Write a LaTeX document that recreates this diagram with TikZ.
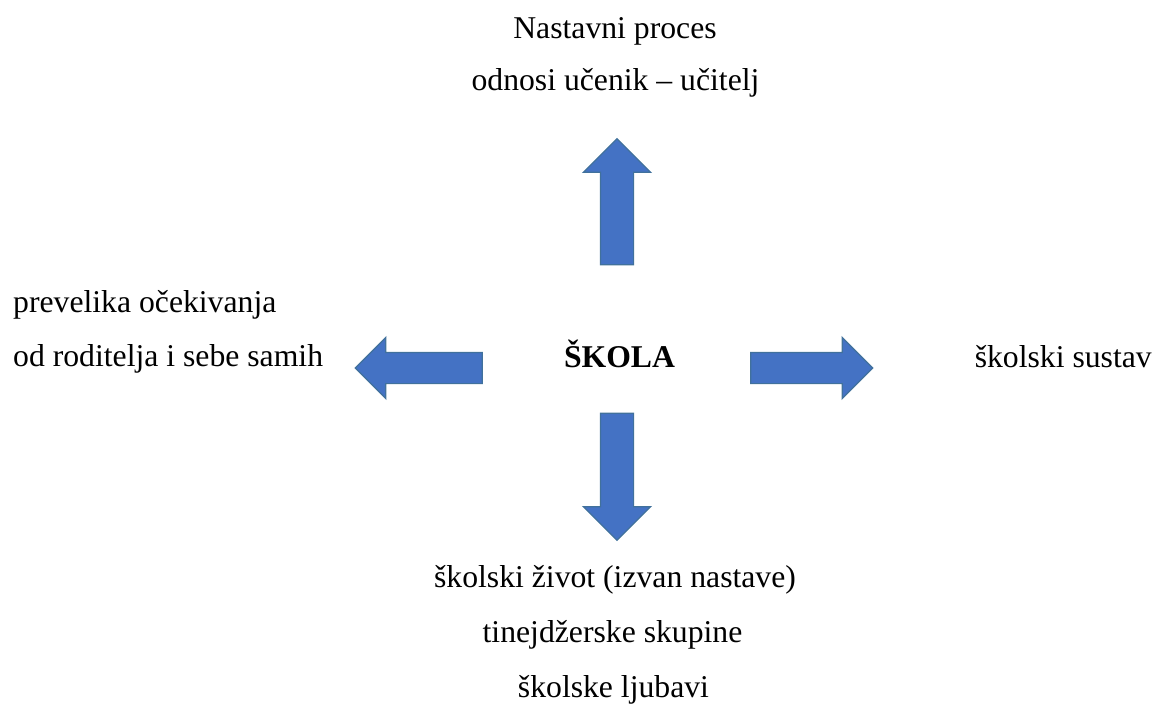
\documentclass[tikz,border=0pt]{standalone}
\usepackage{fontspec}
\setmainfont{Liberation Serif}
\usepackage{tikz}
\usetikzlibrary{shapes, arrows, positioning, calc}

\definecolor{arrowfill}{HTML}{4472C4}
\definecolor{arrowline}{HTML}{41719C}

\tikzset{
	blockarrow/.style = {single arrow, fill = arrowfill, draw = arrowline, line width = 1.2pt,
		inner sep = 0pt, single arrow head extend = #1, single arrow tip angle = 90},
	txt/.style = {font = \fontsize{31.7pt}{38pt}\selectfont, inner sep = 0pt, anchor = base}
}

\begin{document}
\begin{tikzpicture}[x = 1pt, y = -1pt]
						\useasboundingbox (0,0) rectangle (1153,704);
						% arrows
						\node[blockarrow = 17pt, text height = 16pt, text depth = 16pt, minimum height = 126pt, rotate = 90] (up) at (617,210) {};
						\node[blockarrow = 17pt, text height = 16pt, text depth = 16pt, minimum height = 127pt, rotate = -90] (down) at (617,468.5) {};
						\node[blockarrow = 15pt, text height = 15pt, text depth = 15pt, minimum height = 127pt, rotate = 180] (left) at (426.5,368) {};
						\node[blockarrow = 15pt, text height = 15pt, text depth = 15pt, minimum height = 122pt] (right) at (804,368) {};
						% texts
						\node[txt] (skola) at (619.5,367) {\textbf{ŠKOLA}};
						\node[txt] (nastava) at (615,38) {Nastavni proces};
						\node[txt] (odnosi) at (615.5,90) {odnosi učenik – učitelj};
						\node[txt, anchor = base west] (ocekivanja) at (13,312) {prevelika očekivanja};
						\node[txt, anchor = base west] (roditelji) at (13,366) {od roditelja i sebe samih};
						\node[txt, anchor = base east] (sustav) at (1152,367) {školski sustav};
						\node[txt] (zivot) at (615,587) {školski život (izvan nastave)};
						\node[txt] (skupine) at (612.5,642) {tinejdžerske skupine};
						\node[txt] (ljubavi) at (613.5,697) {školske ljubavi};
				\end{tikzpicture}
\end{document}
